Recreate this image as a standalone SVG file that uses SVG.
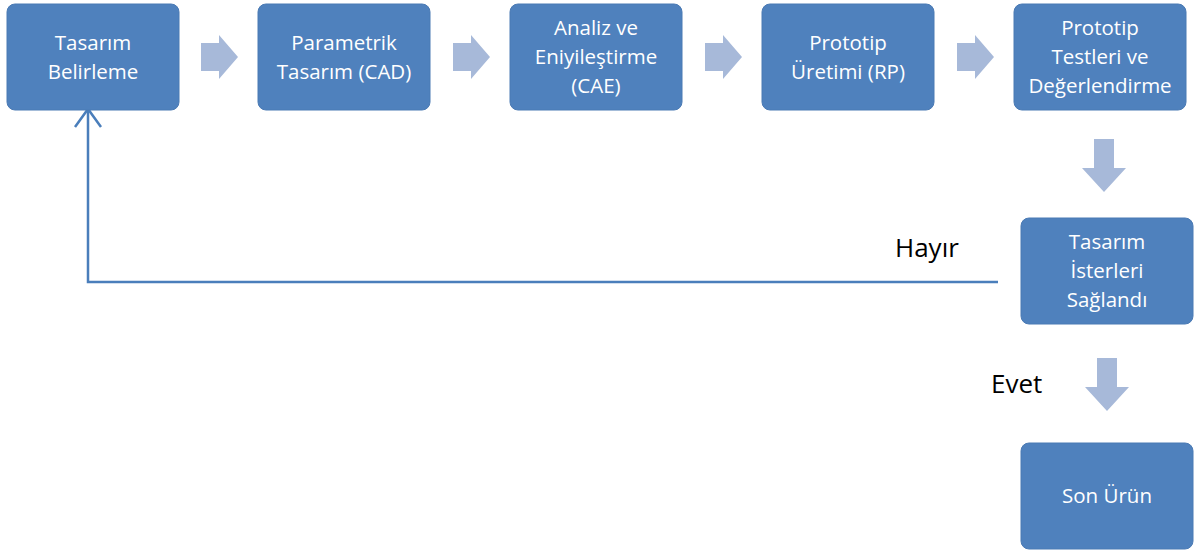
<svg xmlns="http://www.w3.org/2000/svg" width="1195" height="552" viewBox="0 0 1195 552">
<defs>
<style>
.box{fill:#4f81bd;stroke:#4a7ab4;stroke-width:1}
.t{font-family:"Open Sans","Liberation Sans",sans-serif;font-size:20.5px;fill:#ffffff;text-anchor:middle}
.lbl{font-family:"Open Sans","Liberation Sans",sans-serif;font-size:26px;fill:#000000}
.blk{fill:#a7b9d9}
.ln{fill:none;stroke:#4a7ebb;stroke-width:2.5}
</style>
<path id="rarrow" d="M0,8 H18 V0 L37,22 L18,44 V36 H0 Z"/>
<path id="darrow" d="M-10,0 H10 V29 H22 L0,53 L-22,29 H-10 Z"/>
</defs>
<g id="connectors">
<use href="#rarrow" class="blk" x="201" y="35"/>
<use href="#rarrow" class="blk" x="453" y="35"/>
<use href="#rarrow" class="blk" x="705" y="35"/>
<use href="#rarrow" class="blk" x="957" y="35"/>
<use href="#darrow" class="blk" x="1104" y="139"/>
<use href="#darrow" class="blk" x="1107" y="358"/>
<polyline class="ln" points="998,282 88,282 88,109"/>
<polyline class="ln" points="75,127 88,109 101,127"/>
</g>
<g id="n1">
<rect class="box" x="7" y="4" width="172" height="106" rx="8"/>
<text class="t" x="93" y="50">Tasarım</text>
<text class="t" x="93" y="79">Belirleme</text>
</g>
<g id="n2">
<rect class="box" x="258" y="4" width="172" height="106" rx="8"/>
<text class="t" x="344" y="50">Parametrik</text>
<text class="t" x="344" y="79">Tasarım (CAD)</text>
</g>
<g id="n3">
<rect class="box" x="510" y="4" width="172" height="106" rx="8"/>
<text class="t" x="596" y="35">Analiz ve</text>
<text class="t" x="596" y="64">Eniyileştirme</text>
<text class="t" x="596" y="93">(CAE)</text>
</g>
<g id="n4">
<rect class="box" x="762" y="4" width="172" height="106" rx="8"/>
<text class="t" x="848" y="50">Prototip</text>
<text class="t" x="848" y="79">Üretimi (RP)</text>
</g>
<g id="n5">
<rect class="box" x="1014" y="4" width="172" height="106" rx="8"/>
<text class="t" x="1100" y="35">Prototip</text>
<text class="t" x="1100" y="64">Testleri ve</text>
<text class="t" x="1100" y="93">Değerlendirme</text>
</g>
<g id="n6">
<rect class="box" x="1021" y="218" width="172" height="106" rx="8"/>
<text class="t" x="1107" y="249">Tasarım</text>
<text class="t" x="1107" y="278">İsterleri</text>
<text class="t" x="1107" y="307">Sağlandı</text>
</g>
<g id="n7">
<rect class="box" x="1021" y="443" width="172" height="106" rx="8"/>
<text class="t" x="1107" y="503">Son Ürün</text>
</g>
<g id="labels">
<text class="lbl" x="895" y="257">Hayır</text>
<text class="lbl" x="991" y="393">Evet</text>
</g>
</svg>
